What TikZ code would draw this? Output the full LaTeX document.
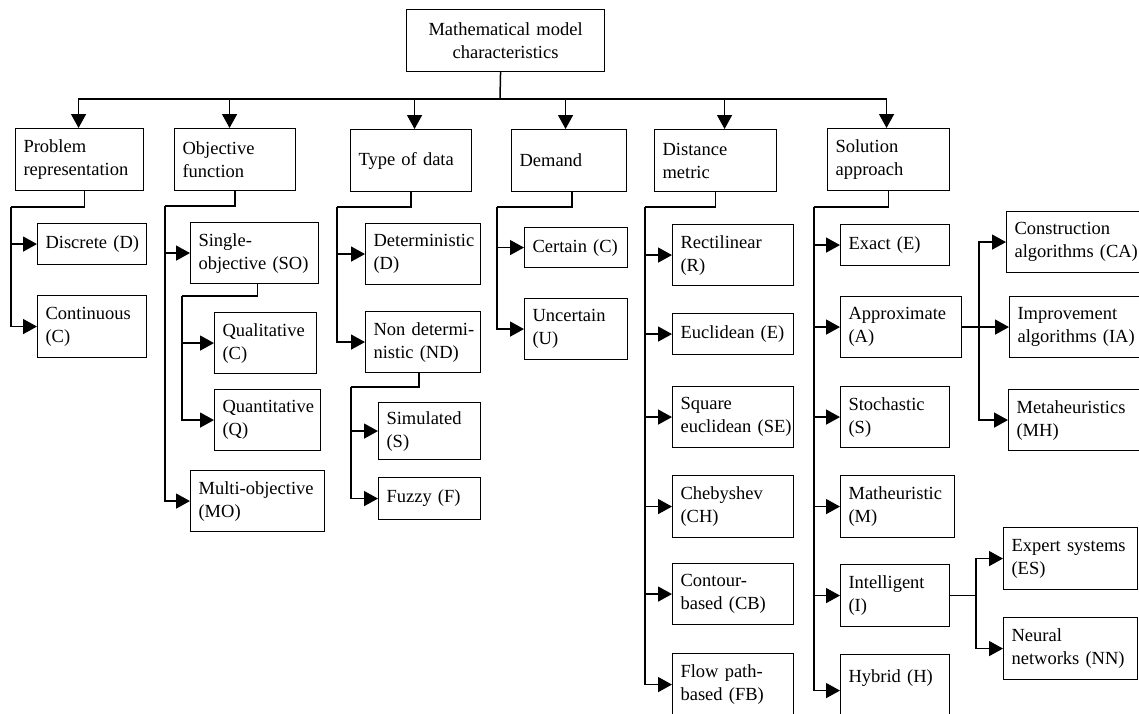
\documentclass[tikz,border=0pt]{standalone}
\usepackage{fontspec}
\setmainfont{Liberation Serif}
\usetikzlibrary{arrows.meta}
\newcommand\diafont{\fontsize{18.5}{23}\selectfont}
\newcommand\myline[1]{\mbox{#1}}
\begin{document}
\begin{tikzpicture}[x=1pt,y=-1pt,
  bx/.style={draw, line width=1.1pt, inner xsep=8pt, inner ysep=0pt, align=left, anchor=north west, font=\diafont},
  cn/.style={line width=1.5pt},
  rarr/.style={cn, {Triangle[length=14pt,width=15pt]}-}]
\useasboundingbox (0,0) rectangle (1139,713);
% root
\node[bx, align=center, text width=182pt, minimum height=62pt] (root) at (406,9) {Mathematical model\\characteristics};
% level 1
\node[bx, text width=112pt, minimum height=62pt] (pr) at (15,128) {\myline{Problem}\\\myline{representation}};
\node[bx, text width=105pt, minimum height=62pt] (of) at (174,128) {\myline{Objective}\\\myline{function}};
\node[bx, text width=105pt, minimum height=62pt] (td) at (350,129) {\myline{Type of data}};
\node[bx, text width=99pt, minimum height=62pt] (de) at (511,129) {\myline{Demand}};
\node[bx, text width=106pt, minimum height=62pt] (dm) at (654,129) {\myline{Distance}\\\myline{metric}};
\node[bx, text width=106pt, minimum height=62pt] (sa) at (827,128) {\myline{Solution}\\\myline{approach}};
% problem representation
\node[bx, text width=93pt, minimum height=41pt] (dis) at (37,223) {\myline{Discrete (D)}};
\node[bx, text width=93pt, minimum height=62pt] (con) at (37,295) {\myline{Continuous}\\\myline{(C)}};
% objective function
\node[bx, text width=112pt, minimum height=61pt] (so) at (190,222) {\myline{Single-}\\\myline{objective (SO)}};
\node[bx, text width=86pt, minimum height=61pt] (ql) at (214,312) {\myline{Qualitative}\\\myline{(C)}};
\node[bx, text width=90pt, minimum height=61pt] (qn) at (214,389) {\myline{Quantitative}\\\myline{(Q)}};
\node[bx, text width=118pt, minimum height=61pt] (mo) at (190,470) {\myline{Multi-objective}\\\myline{(MO)}};
% type of data
\node[bx, text width=99pt, minimum height=61pt] (det) at (365,223) {\myline{Deterministic}\\\myline{(D)}};
\node[bx, text width=99pt, minimum height=61pt] (nd) at (365,311) {\myline{Non determi-}\\\myline{nistic (ND)}};
\node[bx, text width=86pt, minimum height=57pt] (sim) at (378,402) {\myline{Simulated}\\\myline{(S)}};
\node[bx, text width=86pt, minimum height=42pt] (fuz) at (378,477) {\myline{Fuzzy (F)}};
% demand
\node[bx, text width=87pt, minimum height=40pt] (cer) at (524,227) {\myline{Certain (C)}};
\node[bx, text width=87pt, minimum height=61pt] (unc) at (524,298) {\myline{Uncertain}\\\myline{(U)}};
% distance metric
\node[bx, text width=105pt, minimum height=61pt] (rec) at (672,224) {\myline{Rectilinear}\\\myline{(R)}};
\node[bx, text width=105pt, minimum height=41pt] (euc) at (672,313) {\myline{Euclidean (E)}};
\node[bx, text width=105pt, minimum height=61pt] (sqe) at (672,386) {\myline{Square}\\\myline{euclidean (SE)}};
\node[bx, text width=105pt, minimum height=62pt] (che) at (672,475) {\myline{Chebyshev}\\\myline{(CH)}};
\node[bx, text width=105pt, minimum height=61pt] (cb) at (672,563) {\myline{Contour-}\\\myline{based (CB)}};
\node[bx, text width=105pt, minimum height=62pt] (fb) at (672,653) {\myline{Flow path-}\\\myline{based (FB)}};
% solution approach
\node[bx, text width=93pt, minimum height=41pt] (ex) at (840,224) {\myline{Exact (E)}};
\node[bx, text width=105pt, minimum height=61pt] (ap) at (840,296) {\myline{Approximate}\\\myline{(A)}};
\node[bx, text width=93pt, minimum height=61pt] (sto) at (840,386) {\myline{Stochastic}\\\myline{(S)}};
\node[bx, text width=98pt, minimum height=62pt] (mat) at (840,475) {\myline{Matheuristic}\\\myline{(M)}};
\node[bx, text width=93pt, minimum height=62pt] (int) at (840,564) {\myline{Intelligent}\\\myline{(I)}};
\node[bx, text width=93pt, minimum height=72pt] (hyb) at (840,654) {\myline{Hybrid (H)}\\\strut};
% approximate children
\node[bx, text width=134pt, minimum height=61pt] (ca) at (1006,211) {\myline{Construction}\\\myline{algorithms (CA)}};
\node[bx, text width=134pt, minimum height=61pt] (ia) at (1009,296) {\myline{Improvement}\\\myline{algorithms (IA)}};
\node[bx, text width=134pt, minimum height=61pt] (mh) at (1008,389) {\myline{Metaheuristics}\\\myline{(MH)}};
% intelligent children
\node[bx, text width=118pt, minimum height=62pt] (es) at (1003,527) {\myline{Expert systems}\\\myline{(ES)}};
\node[bx, text width=118pt, minimum height=62pt] (nn) at (1003,617) {\myline{Neural}\\\myline{networks (NN)}};

% top bus
\coordinate (bus) at (500,99);
\draw[cn] ([xshift=-5pt]root.south) -- (bus);
\draw[rarr] ([xshift=-1pt]pr.north) |- (bus);
\draw[rarr] ([xshift=-5.5pt]of.north) |- (bus);
\draw[rarr] ([xshift=3.5pt]td.north) |- (bus);
\draw[rarr] ([xshift=-3.5pt]de.north) |- (bus);
\draw[rarr] ([xshift=9pt]dm.north) |- (bus);
\draw[rarr] ([xshift=-2pt]sa.north) |- (bus);

% problem representation
\coordinate (prT) at (11,207);
\draw[cn] ([xshift=5pt]pr.south) |- (prT);
\draw[rarr] (dis.west) -| (prT);
\draw[rarr] (con.west) -| (prT);

% objective function
\coordinate (ofT) at (165,206);
\draw[cn] (of.south) |- (ofT);
\draw[rarr] (so.west) -| (ofT);
\draw[rarr] (mo.west) -| (ofT);
\coordinate (soT) at (182,296);
\draw[cn] ([xshift=3pt]so.south) |- (soT);
\draw[rarr] (ql.west) -| (soT);
\draw[rarr] (qn.west) -| (soT);

% type of data
\coordinate (tdT) at (337,207);
\draw[cn] (td.south) |- (tdT);
\draw[rarr] (det.west) -| (tdT);
\draw[rarr] (nd.west) -| (tdT);
\coordinate (ndT) at (351,387);
\draw[cn] ([xshift=-4pt]nd.south) |- (ndT);
\draw[rarr] (sim.west) -| (ndT);
\draw[rarr] (fuz.west) -| (ndT);

% demand
\coordinate (deT) at (497,207);
\draw[cn] ([xshift=3pt]de.south) |- (deT);
\draw[rarr] (cer.west) -| (deT);
\draw[rarr] (unc.west) -| (deT);

% distance metric
\coordinate (dmT) at (645,207);
\draw[cn] (dm.south) |- (dmT);
\foreach \n in {rec,euc,sqe,che,cb,fb} \draw[rarr] (\n.west) -| (dmT);

% solution approach
\coordinate (saT) at (814,207);
\draw[cn] (sa.south) |- (saT);
\foreach \n in {ex,ap,sto,mat,int,hyb} \draw[rarr] (\n.west) -| (saT);

% approximate
\coordinate (apT) at (979,326);
\draw[cn] (ap.east) -| (apT);
\foreach \n in {ca,ia,mh} \draw[rarr] (\n.west) -| (apT);

% intelligent
\coordinate (intT) at (976,595);
\draw[cn] (int.east) -| (intT);
\foreach \n in {es,nn} \draw[rarr] (\n.west) -| (intT);
\end{tikzpicture}
\end{document}
